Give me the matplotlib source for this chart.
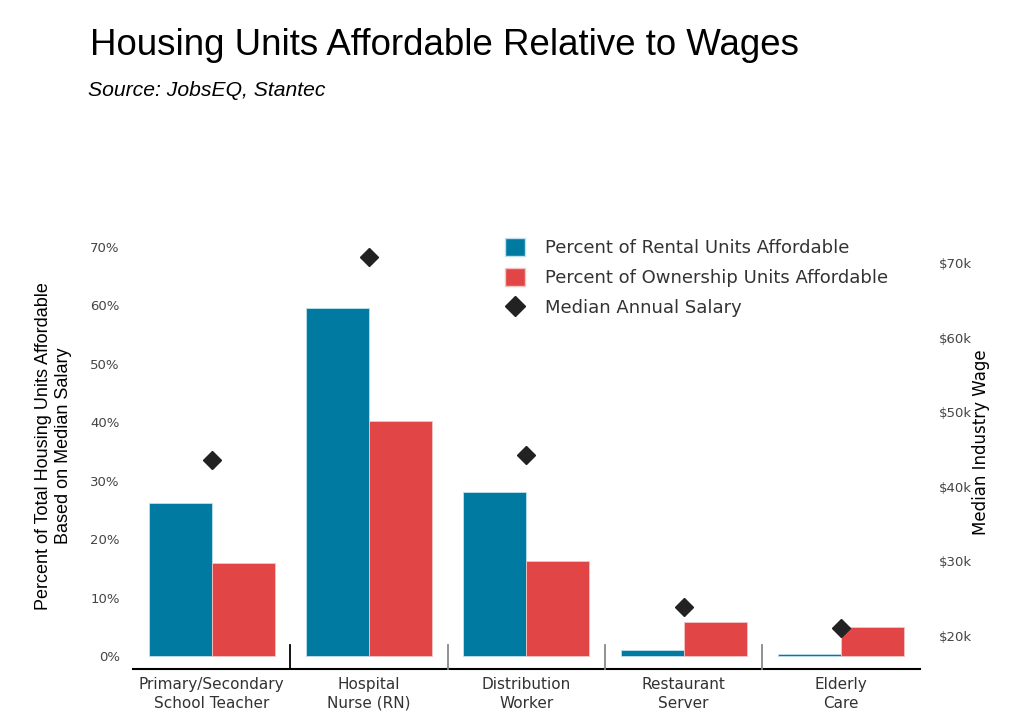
import matplotlib
matplotlib.use("Agg")
import matplotlib.pyplot as plt
import numpy as np
from matplotlib.lines import Line2D
from matplotlib.patches import Patch
import matplotlib.transforms as mtransforms

categories = ["Primary/Secondary\nSchool Teacher", "Hospital\nNurse (RN)", "Distribution\nWorker",
              "Restaurant\nServer", "Elderly\nCare"]
rental_pct = [26.2, 59.5, 28.0, 1.0, 0.3]
ownership_pct = [15.9, 40.3, 16.3, 5.8, 5.0]
salary_k = [43.6, 70.8, 44.3, 23.9, 21.1]
left_ticks = [0, 10, 20, 30, 40, 50, 60, 70]
left_ticklabels = [f"{t}%" for t in left_ticks]
right_ticks = [20, 30, 40, 50, 60, 70]
right_ticklabels = [f"${t}k" for t in right_ticks]

c_rent = "#007AA0"
c_own = "#E24545"
c_dia = "#222222"
c_txt = "#333333"

fig = plt.figure(figsize=(10.23, 7.22), dpi=100)
ax = fig.add_axes([0.130, 0.0734, 0.769, 0.5942])
x = np.arange(len(categories))
w = 0.4
ax.bar(x - w / 2, rental_pct, width=w, color=c_rent, edgecolor="#bfe0ee", linewidth=0.6, zorder=2)
ax.bar(x + w / 2, ownership_pct, width=w, color=c_own, edgecolor="#f3c4c4", linewidth=0.6, zorder=2)
ax.set_xlim(-0.5, 4.5)
ax.set_ylim(-2.2, 71.2)
ax.set_yticks(left_ticks)
ax.set_yticklabels(left_ticklabels, fontsize=9.5, color="#444444", family="DejaVu Sans")
ax.set_xticks(x)
ax.set_xticklabels(categories, fontsize=11, color=c_txt, family="DejaVu Sans", linespacing=1.3)
ax.tick_params(axis="y", length=0, pad=9.5)
ax.tick_params(axis="x", length=0, pad=6)
for s in ["top", "left", "right"]:
    ax.spines[s].set_visible(False)
ax.spines["bottom"].set_linewidth(1.5)
ax.spines["bottom"].set_color("black")

trans = mtransforms.blended_transform_factory(ax.transData, ax.transAxes)
for i, b in enumerate([0.5, 1.5, 2.5, 3.5]):
    ax.plot([b, b], [0, 0.056], transform=trans, color="black" if i == 0 else "#888888",
            linewidth=1.3, clip_on=False, zorder=3)

ax.set_ylabel("Percent of Total Housing Units Affordable\nBased on Median Salary",
              fontsize=13, family="Liberation Sans", color="black", linespacing=1.25)
ax.yaxis.set_label_coords(-0.0775, 0.52)

ax2 = ax.twinx()
ax2.set_ylim(15.58, 73.1)
ax2.plot(x, salary_k, linestyle="none", marker="D", markersize=9.5, color=c_dia, zorder=4)
ax2.set_yticks(right_ticks)
ax2.set_yticklabels(right_ticklabels, fontsize=9.5, color="#444444", family="DejaVu Sans")
ax2.tick_params(axis="y", length=0, pad=14)
for s in ["top", "left", "right", "bottom"]:
    ax2.spines[s].set_visible(False)
ax2.set_ylabel("Median Industry Wage", fontsize=12, color="black", family="DejaVu Sans")
ax2.yaxis.set_label_coords(1.067, 0.529)

handles = [Patch(facecolor=c_rent, edgecolor="#bfe0ee"),
           Patch(facecolor=c_own, edgecolor="#f3c4c4"),
           Line2D([], [], linestyle="none", marker="D", markersize=10, color=c_dia)]
labels = ["Percent of Rental Units Affordable", "Percent of Ownership Units Affordable",
          "Median Annual Salary"]
leg = ax2.legend(handles, labels, loc="upper left", bbox_to_anchor=(0.452, 1.042), frameon=False,
                 handlelength=1.1, handleheight=1.1, handletextpad=1.1,
                 labelspacing=0.62, prop={"family": "DejaVu Sans", "size": 13})
for t in leg.get_texts():
    t.set_color(c_txt)

fig.text(0.088, 0.937, "Housing Units Affordable Relative to Wages", fontsize=26.4,
         family="Liberation Sans", color="black", va="center", ha="left")
fig.text(0.086, 0.875, "Source: JobsEQ, Stantec", fontsize=15.2, style="italic",
         family="Liberation Sans", color="black", va="center", ha="left")

fig.savefig("out.png", dpi=100)
